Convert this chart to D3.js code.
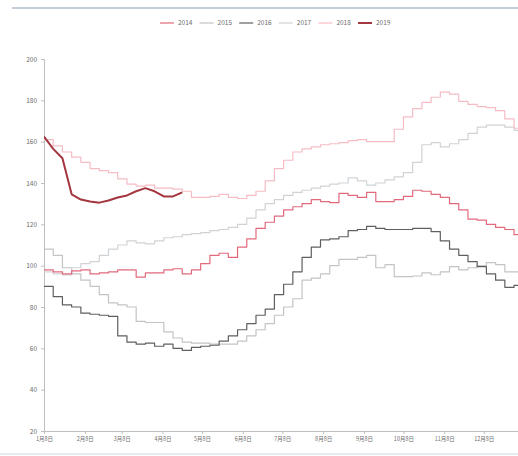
<!DOCTYPE html>
<html>
<head>
<meta charset="utf-8">
<script src="https://cdn.jsdelivr.net/npm/d3@7"></script>
<style>
  body { margin: 0; background: #fff; }
  svg { display: block; }
  text { font-family: "Noto Sans CJK SC", "DejaVu Sans", sans-serif; }
</style>
</head>
<body>
<div id="chart"></div>
<script>
// Weekly observation dates, laid on one shared calendar so every year overlays.
const weeks = [
  "2019-01-08","2019-01-15","2019-01-22","2019-01-29","2019-02-05","2019-02-12","2019-02-19","2019-02-26",
  "2019-03-05","2019-03-12","2019-03-19","2019-03-26","2019-04-02","2019-04-09","2019-04-16","2019-04-23",
  "2019-04-30","2019-05-07","2019-05-14","2019-05-21","2019-05-28","2019-06-04","2019-06-11","2019-06-18",
  "2019-06-25","2019-07-02","2019-07-09","2019-07-16","2019-07-23","2019-07-30","2019-08-06","2019-08-13",
  "2019-08-20","2019-08-27","2019-09-03","2019-09-10","2019-09-17","2019-09-24","2019-10-01","2019-10-08",
  "2019-10-15","2019-10-22","2019-10-29","2019-11-05","2019-11-12","2019-11-19","2019-11-26","2019-12-03",
  "2019-12-10","2019-12-17","2019-12-24","2019-12-31","2020-01-07"
];

const years = ["2014", "2015", "2016", "2017", "2018", "2019"];

const v2014 = [98,97,96,97.5,98,96,96.5,97,98,98,94.5,96.5,96.5,98,98.5,96,98,101,105,106,104,109,113,118,121,124,127,128.5,130,132,131,130.5,135,134,133,135.5,131,131,132,133.5,136.5,136,134.5,133,130,127,122.5,122,120,118.5,117.5,115,114];
const v2015 = [108,105,99,96,93,90,86,82,81,80,73,72.5,72.5,68,65,63,62.5,62.5,62,62,62,63.5,66,69,72,76,80,84,93,94,96,100,103,103,104,105,99,100.5,94.7,94.7,95,96.5,95.6,97,99.5,98,99,100,101.5,100.5,97,97,97];
const v2016 = [90,85,81,80,77,76.5,76,75.5,66,63,62,62.5,61,62,60,59,60.5,61,61.5,63.5,66,69,72,76,79,86,91,97,104,109,112.5,113,114,117,117.5,119,118,117.5,117.5,117.5,118,118,116.5,112,108,105,102,99.5,96,93,89.5,90.5,90.5];
const v2017 = [97,96,95.5,99,101,102,105,108,110,112,111,110.5,112,113.5,114,115,115.5,116,117,117.5,118.5,120,123,127,130,132,134,135.5,136.5,137.5,138.5,139.5,140,142.5,141,139,140,141.5,143,145,150,158.5,159.5,157.5,159,161,164,167,168,168,167,165.5,164.5];
const v2018 = [161,158,155,152.5,150,147,146,145,142,139.5,138.5,139,137.5,137.5,137,136,133,133,133.5,134.5,133,132.5,134,136,141,147,151,155,156.5,157.5,158.5,159,159.5,160.5,161,160,160,160,166,172,176,179,181.5,184,183,179.5,178,177,176.5,175,171,166.5,164];
const v2019 = [162.5,156.5,152,134.5,132,131,130.5,131.5,133,134,136,137.5,136,133.5,133.5,135.5];

const seriesValues = [v2014, v2015, v2016, v2017, v2018, v2019];
const seriesColors = ["#e2697c", "#c4c4c4", "#5f5f5f", "#cfd3d6", "#f5bcc4", "#a3363f"];
const seriesWidths = [1.2, 1.2, 1.2, 1.2, 1.2, 2];

const yTicks = [20, 40, 60, 80, 100, 120, 140, 160, 180, 200];
const xTickDates = ["2019-01-08","2019-02-08","2019-03-08","2019-04-08","2019-05-08","2019-06-08",
                    "2019-07-08","2019-08-08","2019-09-08","2019-10-08","2019-11-08","2019-12-08"];
const xTickLabels = ["1月8日","2月8日","3月8日","4月8日","5月8日","6月8日",
                     "7月8日","8月8日","9月8日","10月8日","11月8日","12月8日"];

const W = 518, H = 456;
const plotLeft = 44, plotRight = 518, plotTop = 59, plotBottom = 431;

const parse = d3.timeParse("%Y-%m-%d");
const dates = weeks.map(parse);

const svg = d3.select("#chart").append("svg")
  .attr("width", W).attr("height", H);

// header rule and footer rule
svg.append("line").attr("x1", 12).attr("x2", W).attr("y1", 8).attr("y2", 8)
  .attr("stroke", "#c3ced8").attr("stroke-width", 2);
svg.append("line").attr("x1", 0).attr("x2", W).attr("y1", 454).attr("y2", 454)
  .attr("stroke", "#e3ebf2").attr("stroke-width", 2);

const x = d3.scaleTime()
  .domain([parse("2019-01-08"), parse("2020-01-03")])
  .range([plotLeft, plotRight]);
const y = d3.scaleLinear().domain([20, 200]).range([plotBottom, plotTop]);

svg.append("defs").append("clipPath").attr("id", "plot")
  .append("rect").attr("x", plotLeft).attr("y", 0)
  .attr("width", plotRight - plotLeft).attr("height", H);

// axes
const gy = svg.append("g").attr("transform", `translate(${plotLeft},0)`)
  .call(d3.axisLeft(y).tickValues(yTicks).tickSize(3).tickPadding(4).tickFormat(d3.format("d")));
const gx = svg.append("g").attr("transform", `translate(0,${plotBottom})`)
  .call(d3.axisBottom(x).tickValues(xTickDates.map(parse)).tickSize(3).tickPadding(3)
    .tickFormat((d, i) => xTickLabels[i]));
[gy, gx].forEach(g => {
  g.select(".domain").attr("stroke", "#bfbfbf");
  g.selectAll(".tick line").attr("stroke", "#bfbfbf");
  g.selectAll("text").attr("fill", "#6b6b6b");
});
gy.selectAll("text").style("font-size", "6.5px");
gx.selectAll("text").style("font-size", "5.5px");

// series lines
const stepLine = d3.line().x(d => x(d[0])).y(d => y(d[1])).curve(d3.curveStepAfter);
const smoothLine = d3.line().x(d => x(d[0])).y(d => y(d[1]));
const plot = svg.append("g").attr("clip-path", "url(#plot)");
const order = [1, 3, 4, 0, 2, 5];
order.forEach(k => {
  const pts = seriesValues[k].map((v, i) => [dates[i], v]);
  plot.append("path")
    .attr("d", (k === 5 ? smoothLine : stepLine)(pts))
    .attr("fill", "none")
    .attr("stroke", seriesColors[k])
    .attr("stroke-width", seriesWidths[k])
    .attr("stroke-linejoin", "round");
});

// legend
const legend = svg.append("g").attr("transform", "translate(160,23)");
years.forEach((yr, i) => {
  const g = legend.append("g").attr("transform", `translate(${i * 39.6},0)`);
  g.append("line").attr("x1", 0).attr("x2", 14).attr("y1", 0).attr("y2", 0)
    .attr("stroke", seriesColors[i]).attr("stroke-width", seriesWidths[i]);
  g.append("text").attr("x", 18).attr("y", 2.3).text(yr)
    .attr("fill", "#6b6b6b").style("font-size", "6.5px");
});
</script>
</body>
</html>
